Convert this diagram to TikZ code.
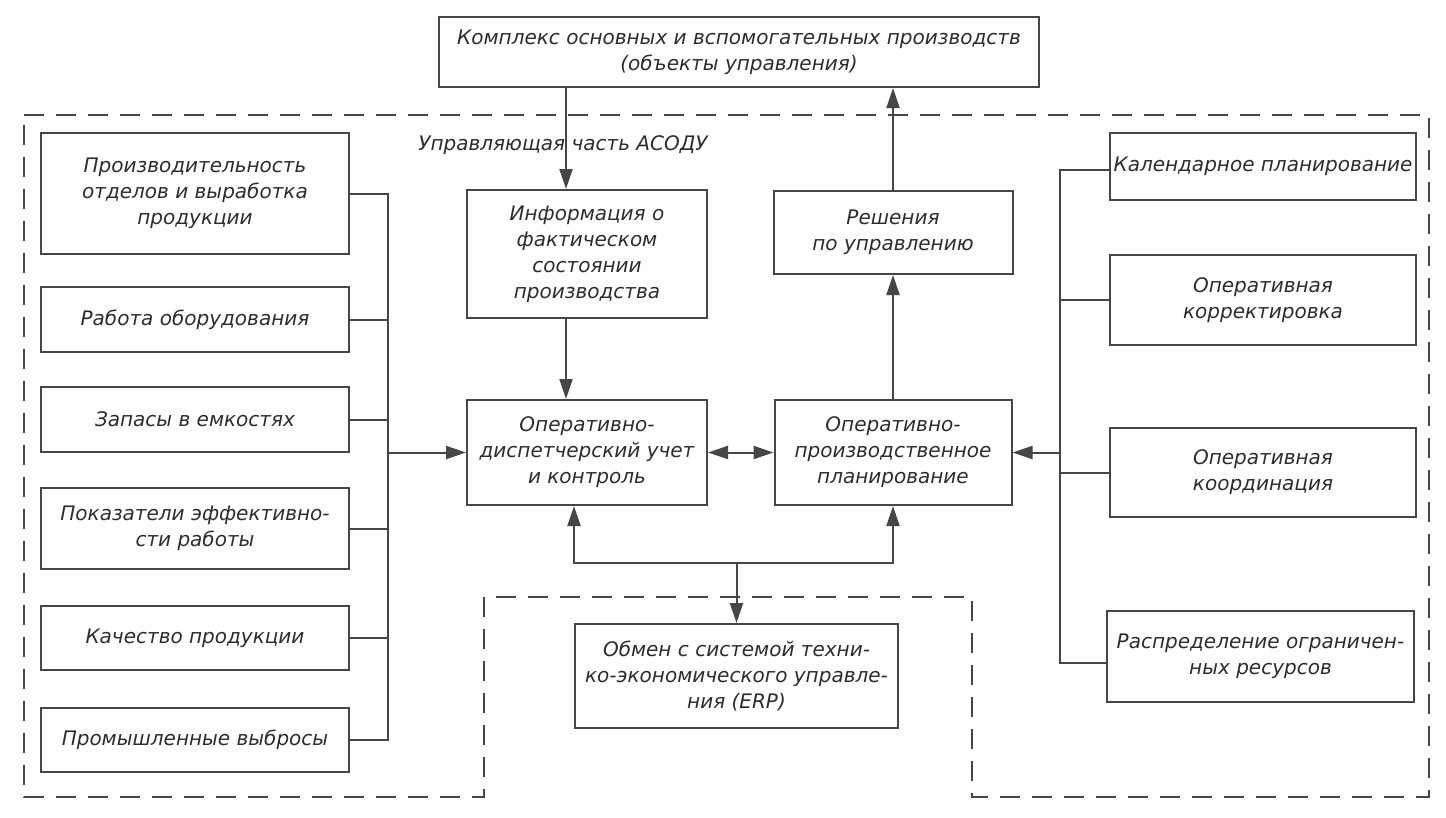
\documentclass[tikz,border=0pt]{standalone}
\usepackage{fontspec}
\setmainfont{DejaVu Sans}
\usetikzlibrary{arrows.meta}
\definecolor{ln}{RGB}{70,70,70}
\definecolor{tx}{RGB}{45,45,45}
\tikzset{
  box/.style={draw=ln, line width=2pt, inner sep=2pt, align=center, text=tx,
    font=\fontsize{20}{26}\selectfont\itshape},
  lbl/.style={text=tx, font=\fontsize{20}{26}\selectfont\itshape, inner sep=0pt},
  con/.style={draw=ln, line width=2pt},
  arr/.style={con, -{Triangle[length=20pt,width=13pt]}},
  darr/.style={con, {Triangle[length=20pt,width=13pt]}-{Triangle[length=20pt,width=13pt]}},
  dsh/.style={draw=ln, line width=1.8pt, dash pattern=on 20pt off 12pt}
}
\begin{document}
\begin{tikzpicture}[x=1pt,y=-1pt]
\useasboundingbox (0,0) rectangle (1446,817);
\fill[white] (0,0) rectangle (1446,817);
% dashed frame
\draw[dsh] (24,115) -- (1429,115) -- (1429,797) -- (972,797) -- (972,597) -- (484,597) -- (484,797) -- (24,797) -- cycle;
% boxes
\node[box, minimum width=600pt, minimum height=70pt] (top) at (739,52) {Комплекс основных и вспомогательных производств\\(объекты управления)};
\node[box, minimum width=240pt, minimum height=128pt] (info) at (587,254) {Информация о\\фактическом\\состоянии\\производства};
\node[box, minimum width=240pt, minimum height=105pt] (opd) at (587,452.5) {Оперативно-\\диспетчерский учет\\и контроль};
\node[box, minimum width=237pt, minimum height=105pt] (opp) at (893,452.5) {Оперативно-\\производственное\\планирование};
\node[box, minimum width=239pt, minimum height=83pt] (res) at (893,232.5) {Решения\\по управлению};
\node[box, minimum width=323pt, minimum height=104pt] (erp) at (736.5,676) {Обмен с системой техни-\\ко-экономического управле-\\ния (ERP)};
\node[box, minimum width=308pt, minimum height=121pt] (L1) at (195,193.5) {Производительность\\отделов и выработка\\продукции};
\node[box, minimum width=308pt, minimum height=65pt] (L2) at (195,319.5) {Работа оборудования};
\node[box, minimum width=308pt, minimum height=65pt] (L3) at (195,419.5) {Запасы в емкостях};
\node[box, minimum width=308pt, minimum height=81pt] (L4) at (195,528.5) {Показатели эффективно-\\сти работы};
\node[box, minimum width=308pt, minimum height=64pt] (L5) at (195,638) {Качество продукции};
\node[box, minimum width=308pt, minimum height=64pt] (L6) at (195,740) {Промышленные выбросы};
\node[box, minimum width=306pt, minimum height=67pt] (R1) at (1263,166.5) {Календарное планирование};
\node[box, minimum width=306pt, minimum height=90pt] (R2) at (1263,300) {Оперативная\\корректировка};
\node[box, minimum width=306pt, minimum height=89pt] (R3) at (1263,472.5) {Оперативная\\координация};
\node[box, minimum width=307pt, minimum height=91pt] (R4) at (1260.5,656.5) {Распределение ограничен-\\ных ресурсов};
\node[lbl] (ctl) at (563,145) {Управляющая часть АСОДУ};
% helper coordinates
\coordinate (bl) at (388,0);
\coordinate (br) at (1060,0);
\coordinate (jy) at (0,563);
% left bus
\draw[con] (L1.east) -- (L1.east -| bl) -- (L6.east -| bl) -- (L6.east);
\draw[con] (L2.east) -- (L2.east -| bl);
\draw[con] (L3.east) -- (L3.east -| bl);
\draw[con] (L4.east) -- (L4.east -| bl);
\draw[con] (L5.east) -- (L5.east -| bl);
\draw[arr] (opd.west -| bl) -- (opd.west);
% right bus
\draw[con] ([yshift=-3.5pt]R1.west) -- ([yshift=-3.5pt]R1.west -| br) -- ([yshift=-6.5pt]R4.west -| br) -- ([yshift=-6.5pt]R4.west);
\draw[con] (R2.west) -- (R2.west -| br);
\draw[con] (R3.west) -- (R3.west -| br);
\draw[arr] (opp.east -| br) -- (opp.east);
% vertical flows
\draw[arr] ([xshift=-21pt]info.north |- top.south) -- ([xshift=-21pt]info.north);
\draw[arr] ([xshift=-21pt]info.south) -- ([xshift=-21pt]opd.north);
\draw[arr] (opp.north) -- (opp.north |- res.south);
\draw[arr] (res.north) -- (res.north |- top.south);
\draw[darr] (opd.east) -- (opp.west);
\draw[darr] ([xshift=-13pt]opd.south) -- ([xshift=-13pt]opd.south |- jy) -- (opp.south |- jy) -- (opp.south);
\draw[arr] (erp.north |- jy) -- (erp.north);
\end{tikzpicture}
\end{document}
